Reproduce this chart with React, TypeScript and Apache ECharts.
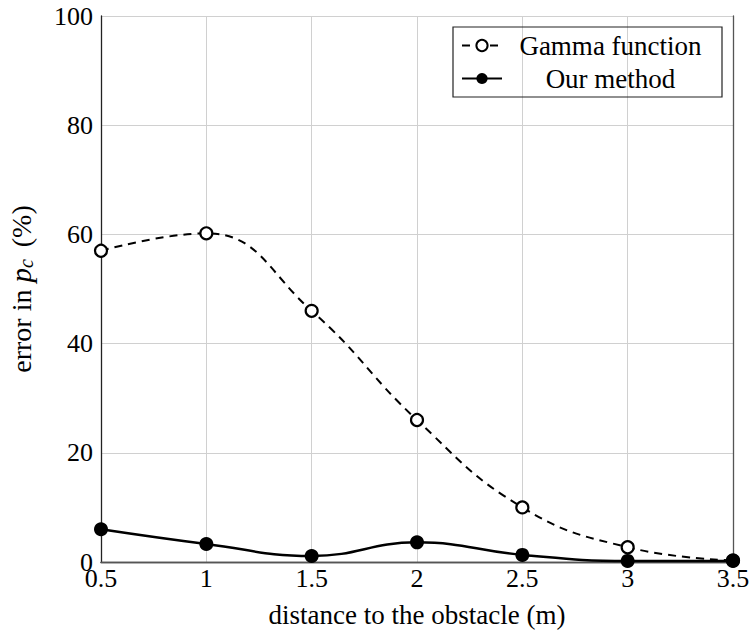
import React, { useEffect, useRef } from "react";
import * as echarts from "echarts";

const distances = [0.5, 1, 1.5, 2, 2.5, 3, 3.5];
const gammaError = [57, 60.2, 46, 26, 10, 2.7, 0.3];
const ourError = [6.0, 3.3, 1.1, 3.6, 1.3, 0.2, 0.2];
const seriesNames = ["Gamma function", "Our method"];

const FONT = "Liberation Serif";

export default function App() {
  const ref = useRef<HTMLDivElement>(null);
  useEffect(() => {
    if (!ref.current) return;
    const chart = echarts.init(ref.current, null, { renderer: "svg" });
    const toPairs = (ys: number[]) => distances.map((x, i) => [x, ys[i]]);
    chart.setOption({
      animation: false,
      backgroundColor: "#ffffff",
      textStyle: { fontFamily: FONT, color: "#000" },
      grid: {
        left: 101,
        top: 16,
        right: 21,
        bottom: 72,
        containLabel: false,
        outerBoundsMode: "none",
      },
      legend: {
        left: 453,
        top: 27,
        orient: "vertical",
        data: seriesNames,
        borderColor: "#222",
        borderWidth: 1.2,
        borderRadius: 0,
        padding: [5, 8, 5, 8],
        itemGap: 6,
        itemWidth: 40,
        itemHeight: 14,
        formatter: (name: string) => `{a|${name}}`,
        textStyle: {
          fontFamily: FONT,
          fontSize: 27,
          color: "#000",
          rich: {
            a: {
              fontFamily: FONT,
              fontSize: 27,
              color: "#000",
              width: 207,
              align: "center",
              lineHeight: 30,
            },
          },
        },
      },
      xAxis: [
        {
          type: "value",
          min: 0.5,
          max: 3.5,
          interval: 0.5,
          name: "distance to the obstacle (m)",
          nameLocation: "middle",
          nameGap: 39,
          nameTextStyle: { fontFamily: FONT, fontSize: 27, color: "#000" },
          axisLine: { show: true, lineStyle: { color: "#444", width: 1.3 } },
          axisTick: { show: false },
          axisLabel: {
            fontFamily: FONT,
            fontSize: 26,
            color: "#000",
            margin: 3,
            formatter: (v: number) => String(v),
          },
          splitLine: { show: true, lineStyle: { color: "#d0d0d0", width: 1 } },
        },
        {
          type: "value",
          position: "top",
          min: 0.5,
          max: 3.5,
          interval: 0.5,
          axisLine: { show: true, lineStyle: { color: "#555", width: 1.3 } },
          axisTick: { show: false },
          axisLabel: { show: false },
          splitLine: { show: false },
        },
      ],
      yAxis: [
        {
          type: "value",
          min: 0,
          max: 100,
          interval: 20,
          name: "error in {i|p}{s|c} (%)",
          nameLocation: "middle",
          nameRotate: 90,
          nameGap: 65,
          nameTextStyle: {
            fontFamily: FONT,
            fontSize: 28,
            color: "#000",
            rich: {
              i: { fontFamily: FONT, fontStyle: "italic", fontSize: 29 },
              s: {
                fontFamily: FONT,
                fontStyle: "italic",
                fontSize: 20,
                padding: [10, 5, 0, 0],
              },
            },
          },
          axisLine: { show: true, lineStyle: { color: "#222", width: 1.3 } },
          axisTick: { show: false },
          axisLabel: { fontFamily: FONT, fontSize: 26, color: "#000", margin: 8 },
          splitLine: { show: true, lineStyle: { color: "#d0d0d0", width: 1 } },
        },
        {
          type: "value",
          position: "right",
          min: 0,
          max: 100,
          interval: 20,
          axisLine: { show: true, lineStyle: { color: "#555", width: 1.3 } },
          axisTick: { show: false },
          axisLabel: { show: false },
          splitLine: { show: false },
        },
      ],
      series: [
        {
          name: seriesNames[0],
          type: "line",
          data: toPairs(gammaError),
          smooth: 0.45,
          symbol: "circle",
          symbolSize: 12,
          lineStyle: { color: "#000", width: 2, type: [8, 6] },
          itemStyle: { color: "#fff", borderColor: "#000", borderWidth: 2.2 },
          z: 3,
        },
        {
          name: seriesNames[1],
          type: "line",
          data: toPairs(ourError),
          smooth: 0.45,
          symbol: "circle",
          symbolSize: 14,
          lineStyle: { color: "#000", width: 2.5 },
          itemStyle: { color: "#000", borderColor: "#000", borderWidth: 0 },
          z: 4,
        },
      ],
    });
    return () => chart.dispose();
  }, []);
  return <div ref={ref} style={{ width: 754, height: 634, position: "absolute", left: 0, top: 0 }} />;
}
